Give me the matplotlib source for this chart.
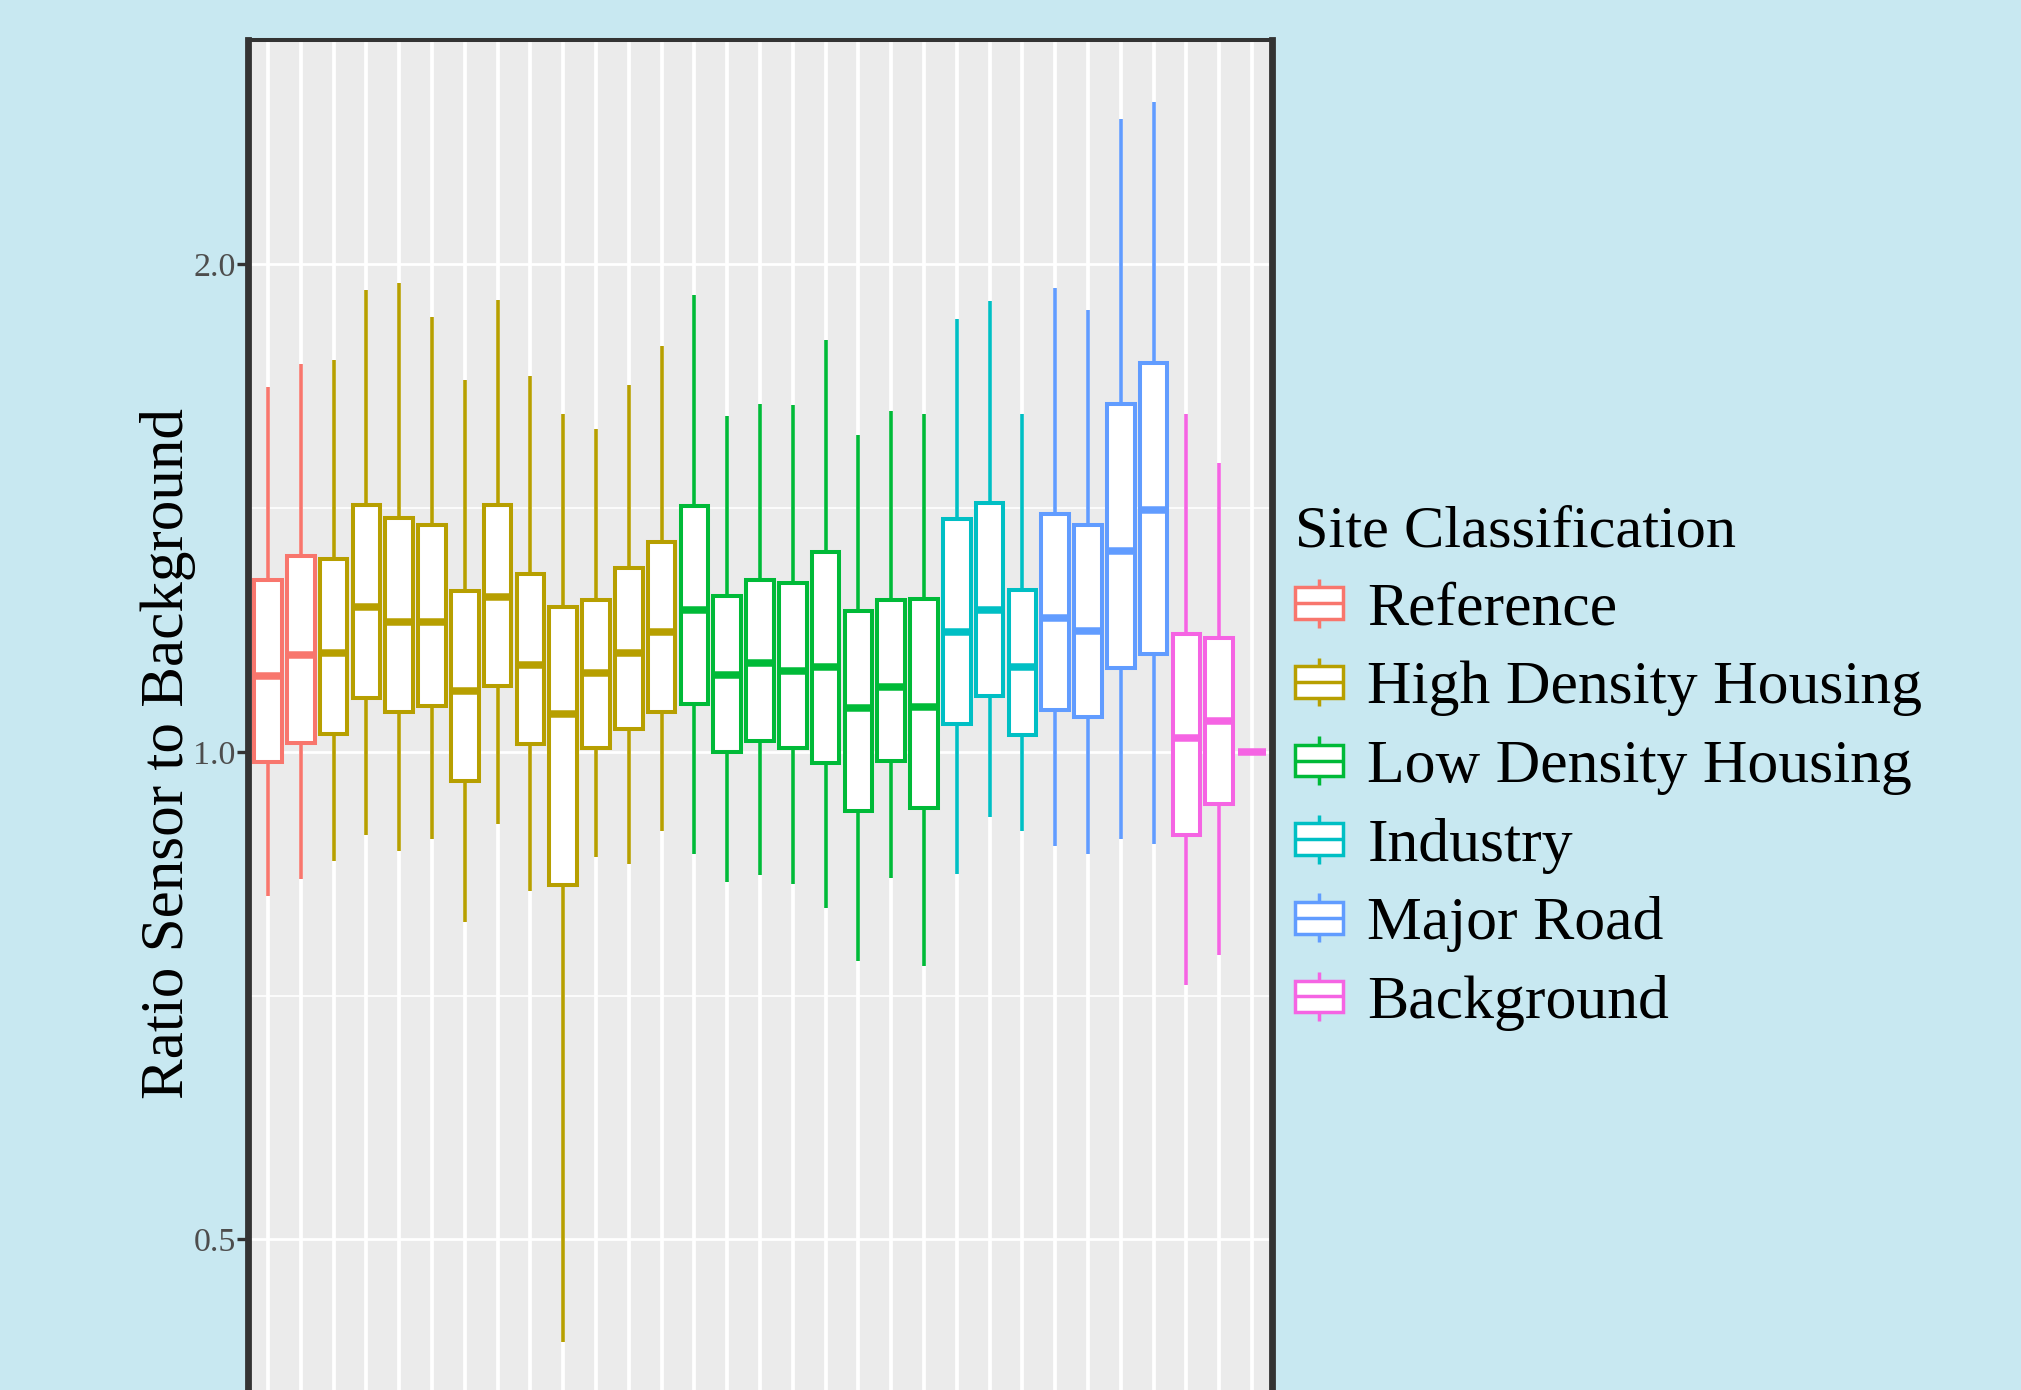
import numpy as np
import matplotlib
matplotlib.use("Agg")
import matplotlib.pyplot as plt
from matplotlib.lines import Line2D
from matplotlib.patches import Rectangle
from matplotlib.legend_handler import HandlerBase
from matplotlib.ticker import NullFormatter

plt.rcParams['font.family'] = ['Liberation Serif', 'DejaVu Serif']

# site classes and their ggplot hue colours
groups = ["Reference", "High Density Housing", "Low Density Housing",
          "Industry", "Major Road", "Background"]
group_colors = ["#F8766D", "#B79F00", "#00BA38", "#00BFC4", "#619CFF", "#F564E3"]

# class index of every sensor site, in plotting order
site_group = [0] * 2 + [1] * 11 + [2] * 8 + [3] * 3 + [4] * 4 + [5] * 3

# box statistics of the sensor / background ratio per site
whisker_low = [0.815, 0.834, 0.856, 0.888, 0.869, 0.883, 0.785, 0.903, 0.821, 0.432,
               0.861, 0.853, 0.894, 0.865, 0.831, 0.839, 0.829, 0.801, 0.743, 0.836,
               0.737, 0.840, 0.911, 0.893, 0.875, 0.865, 0.884, 0.877, 0.718, 0.749,
               1.000]
q1 = [0.986, 1.013, 1.026, 1.080, 1.058, 1.068, 0.960, 1.098, 1.011, 0.828,
      1.006, 1.033, 1.058, 1.070, 1.000, 1.015, 1.006, 0.984, 0.919, 0.987,
      0.923, 1.041, 1.082, 1.024, 1.062, 1.051, 1.126, 1.149, 0.888, 0.928,
      1.000]
median = [1.114, 1.147, 1.151, 1.228, 1.203, 1.203, 1.090, 1.246, 1.131, 1.056,
          1.118, 1.151, 1.186, 1.223, 1.116, 1.135, 1.122, 1.128, 1.064, 1.096,
          1.066, 1.186, 1.223, 1.128, 1.210, 1.188, 1.331, 1.411, 1.020, 1.045,
          1.000]
q3 = [1.276, 1.321, 1.316, 1.421, 1.395, 1.380, 1.257, 1.421, 1.288, 1.228,
      1.241, 1.299, 1.348, 1.419, 1.248, 1.276, 1.271, 1.328, 1.221, 1.241,
      1.243, 1.393, 1.424, 1.259, 1.403, 1.380, 1.640, 1.738, 1.183, 1.175,
      1.000]
whisker_high = [1.679, 1.735, 1.745, 1.930, 1.947, 1.857, 1.697, 1.901, 1.707, 1.616,
                1.583, 1.685, 1.780, 1.915, 1.613, 1.640, 1.637, 1.796, 1.569, 1.624,
                1.616, 1.850, 1.898, 1.616, 1.933, 1.874, 2.461, 2.521, 1.616, 1.507,
                1.000]

y_ticks = [0.5, 1.0, 2.0]
y_ticklabels = ["0.5", "1.0", "2.0"]

bg = "#c8e8f1"
panel = "#ebebeb"
dark = "#333333"


class BoxKey(HandlerBase):
    # legend glyph: small boxplot with whiskers
    def create_artists(self, legend, orig_handle, xdescent, ydescent,
                       width, height, fontsize, trans):
        c = orig_handle.get_edgecolor()
        x0, y0 = -xdescent, -ydescent
        xm, ym = x0 + width / 2, y0 + height / 2
        bh = height * 0.65
        top = Line2D([xm, xm], [ym + bh / 2, y0 + height], color=c, lw=2.5,
                     solid_capstyle='butt', transform=trans)
        bot = Line2D([xm, xm], [y0, ym - bh / 2], color=c, lw=2.5,
                     solid_capstyle='butt', transform=trans)
        rect = Rectangle((x0, ym - bh / 2), width, bh, facecolor='white',
                         edgecolor=c, lw=2.5, transform=trans)
        med = Line2D([x0, x0 + width], [ym, ym], color=c, lw=2.5,
                     solid_capstyle='butt', transform=trans)
        return [top, bot, rect, med]


fig = plt.figure(figsize=(20.21, 13.9), dpi=100, facecolor=bg)
ax = fig.add_axes([0.12286, -0.01007, 0.50638, 0.98151])
ax.set_facecolor(panel)

positions = np.arange(1, len(median) + 1)
stats = []
for i in range(len(median)):
    stats.append(dict(med=median[i], q1=q1[i], q3=q3[i],
                      whislo=whisker_low[i], whishi=whisker_high[i], fliers=[]))

bp = ax.bxp(stats, positions=positions, widths=0.84, patch_artist=True,
            showcaps=False, showfliers=False,
            boxprops=dict(facecolor='white', linewidth=2.9),
            whiskerprops=dict(linewidth=2.6, solid_capstyle='butt'),
            medianprops=dict(linewidth=5.4, solid_capstyle='butt'))

for i, g in enumerate(site_group):
    c = group_colors[g]
    bp['boxes'][i].set_edgecolor(c)
    bp['whiskers'][2 * i].set_color(c)
    bp['whiskers'][2 * i + 1].set_color(c)
    bp['medians'][i].set_color(c)
    bp['medians'][i].set_zorder(3)

# log scale with 5% expansion like ggplot
ax.set_yscale('log', base=2)
lo, hi = np.log2(min(whisker_low)), np.log2(max(whisker_high))
pad = 0.05 * (hi - lo)
ax.set_ylim(2 ** (lo - pad), 2 ** (hi + pad))
ax.set_xlim(0.4, len(median) + 0.6)

ax.set_yticks(y_ticks)
ax.set_yticklabels(y_ticklabels)
ax.set_yticks([2 ** -0.5, 2 ** 0.5], minor=True)
ax.yaxis.set_minor_formatter(NullFormatter())
ax.set_xticks(positions)
ax.set_xticklabels([])

ax.set_axisbelow(True)
ax.grid(axis='x', which='major', color='white', lw=2.7)
ax.grid(axis='y', which='major', color='white', lw=2.0)
ax.grid(axis='y', which='minor', color='white', lw=1.2)

ax.tick_params(axis='y', which='major', length=8, width=2.4, color=dark,
               labelsize=24.5, labelcolor='#4d4d4d', pad=1)
ax.tick_params(axis='y', which='minor', length=0)
ax.tick_params(axis='x', length=0)

for side in ['left', 'right', 'bottom']:
    ax.spines[side].set_linewidth(4.9)
    ax.spines[side].set_color(dark)
ax.spines['top'].set_linewidth(2.9)
ax.spines['top'].set_color(dark)
for s in ax.spines.values():
    s.set_zorder(5)

ax.set_ylabel("Ratio Sensor to Background", fontsize=44, va='baseline')
ax.yaxis.set_label_coords(-0.0638, 0.477)

handles = [Rectangle((0, 0), 1, 1, facecolor='white', edgecolor=c) for c in group_colors]
leg = ax.legend(handles, groups, handler_map={Rectangle: BoxKey()},
                title="Site Classification", fontsize=44.5, title_fontsize=43.5,
                frameon=False, loc='center left',
                bbox_to_anchor=(1295 / 2021, 1 - 768 / 1390),
                bbox_transform=fig.transFigure, alignment='left',
                handlelength=0.78, handleheight=0.84, handletextpad=0.39,
                labelspacing=0.32, borderpad=0, borderaxespad=0)

fig.savefig("out.png", dpi=100, facecolor=bg)
